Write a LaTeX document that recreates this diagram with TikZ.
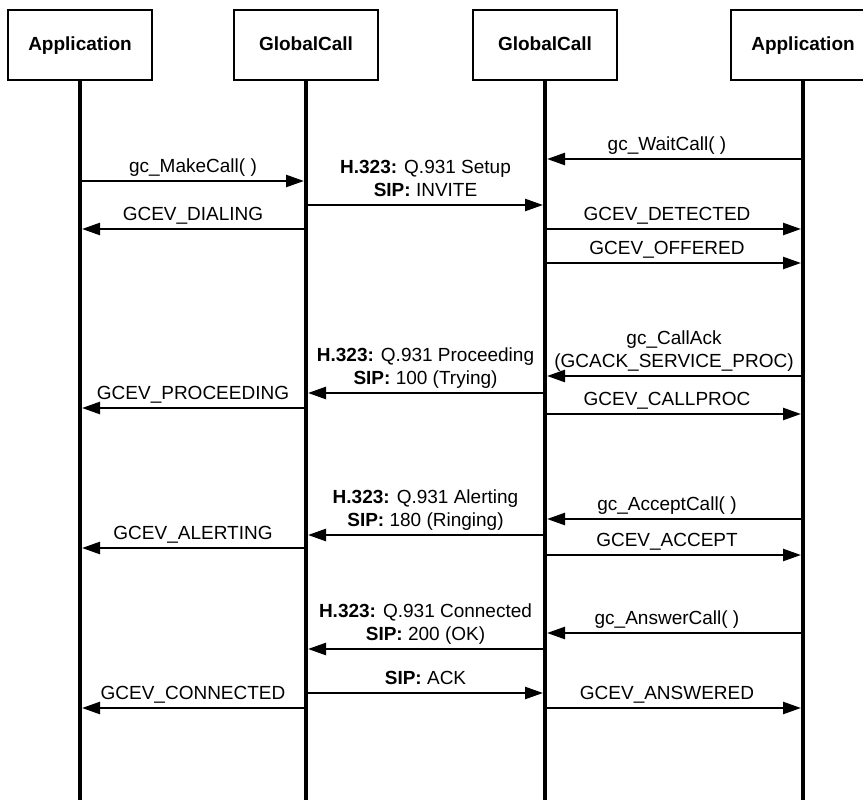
\documentclass[tikz,border=0pt]{standalone}
\usepackage{fontspec}
\setmainfont{Liberation Sans}
\usetikzlibrary{arrows.meta}
\tikzset{
  actor/.style={draw, line width=2pt, fill=white, font=\fontsize{19}{23}\selectfont\bfseries,
    minimum width=144pt, minimum height=70pt, text height=14pt, text depth=4pt},
  life/.style={line width=4.5pt},
  msg/.style={line width=2.5pt, -{Triangle[length=18pt,width=12pt]}, shorten >=2pt},
  lbl/.style={above, inner sep=0pt, outer sep=0pt, text depth=8.5pt, align=center},
  lblr/.style={lbl, xshift=-7pt}
}

\begin{document}
\begin{tikzpicture}[x=1pt, y=-1pt, font=\fontsize{19}{23}\selectfont]
    \useasboundingbox (0,0) rectangle (863,800);
    \node[actor] (app1) at (80,45.5) {Application};
    \node[actor] (gc1) at (306,45.5) {GlobalCall};
    \node[actor] (gc2) at (545,45.5) {GlobalCall};
    \node[actor] (app2) at (803,45.5) {Application};
    \draw[life] (app1.south) -- (app1 |- 0,810);
    \draw[life] (gc1.south) -- (gc1 |- 0,810);
    \draw[life] (gc2.south) -- (gc2 |- 0,810);
    \draw[life] (app2.south) -- (app2 |- 0,810);

    \draw[msg] (app2 |- 0,159) -- node[lblr] (waitcall) {gc\_WaitCall( )} (gc2 |- 0,159);
    \draw[msg] (app1 |- 0,181) -- node[lbl] (makecall) {gc\_MakeCall( )} (gc1 |- 0,181);
    \draw[msg] (gc1 |- 0,205) -- node[lbl] (setup) {\textbf{H.323:} Q.931 Setup\\\textbf{SIP:} INVITE} (gc2 |- 0,205);
    \draw[msg] (gc1 |- 0,229) -- node[lbl] (dialing) {GCEV\_DIALING} (app1 |- 0,229);
    \draw[msg] (gc2 |- 0,229) -- node[lblr] (detected) {GCEV\_DETECTED} (app2 |- 0,229);
    \draw[msg] (gc2 |- 0,263) -- node[lblr] (offered) {GCEV\_OFFERED} (app2 |- 0,263);

    \draw[msg] (app2 |- 0,376) -- node[lbl] (callack) {gc\_CallAck\\(GCACK\_SERVICE\_PROC)} (gc2 |- 0,376);
    \draw[msg] (gc2 |- 0,393) -- node[lbl] (proceeding) {\textbf{H.323:} Q.931 Proceeding\\\textbf{SIP:} 100 (Trying)} (gc1 |- 0,393);
    \draw[msg] (gc1 |- 0,408) -- node[lbl] (evproceeding) {GCEV\_PROCEEDING} (app1 |- 0,408);
    \draw[msg] (gc2 |- 0,414) -- node[lblr] (callproc) {GCEV\_CALLPROC} (app2 |- 0,414);

    \draw[msg] (app2 |- 0,519) -- node[lblr] (acceptcall) {gc\_AcceptCall( )} (gc2 |- 0,519);
    \draw[msg] (gc2 |- 0,535) -- node[lbl] (alerting) {\textbf{H.323:} Q.931 Alerting\\\textbf{SIP:} 180 (Ringing)} (gc1 |- 0,535);
    \draw[msg] (gc1 |- 0,548) -- node[lbl] (evalerting) {GCEV\_ALERTING} (app1 |- 0,548);
    \draw[msg] (gc2 |- 0,555) -- node[lblr] (accept) {GCEV\_ACCEPT} (app2 |- 0,555);

    \draw[msg] (app2 |- 0,633) -- node[lblr] (answercall) {gc\_AnswerCall( )} (gc2 |- 0,633);
    \draw[msg] (gc2 |- 0,649) -- node[lbl] (connected) {\textbf{H.323:} Q.931 Connected\\\textbf{SIP:} 200 (OK)} (gc1 |- 0,649);
    \draw[msg] (gc1 |- 0,693) -- node[lbl] (ack) {\textbf{SIP:} ACK} (gc2 |- 0,693);
    \draw[msg] (gc1 |- 0,708) -- node[lbl] (evconnected) {GCEV\_CONNECTED} (app1 |- 0,708);
    \draw[msg] (gc2 |- 0,708) -- node[lblr] (answered) {GCEV\_ANSWERED} (app2 |- 0,708);
\end{tikzpicture}
\end{document}
